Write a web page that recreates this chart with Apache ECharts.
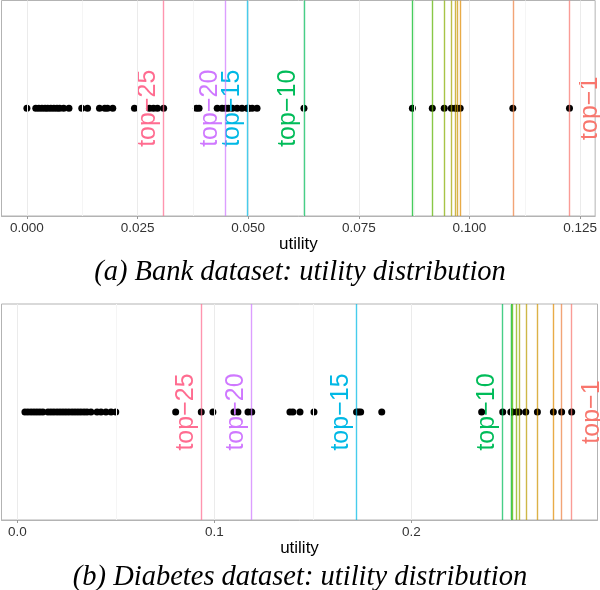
<!DOCTYPE html>
<html>
<head>
<meta charset="utf-8">
<script src="https://cdn.jsdelivr.net/npm/echarts@6/dist/echarts.min.js"></script>
<style>html,body{margin:0;padding:0;background:#fff}#c{width:600px;height:590px}</style>
</head>
<body>
<div id="c"></div>
<script>
// ---- data ----
const topK = [1, 2, 3, 4, 5, 6, 7, 8, 9, 10, 15, 20, 25];
const labeledK = [1, 10, 15, 20, 25];

const bankUtility = [0.0000, 0.0020, 0.0027, 0.0034, 0.0041, 0.0047, 0.0054, 0.0061, 0.0068, 0.0074,
  0.0083, 0.0095, 0.0124, 0.0137, 0.0164, 0.0176, 0.0182, 0.0194, 0.0243, 0.0277, 0.0286, 0.0295,
  0.0309, 0.0383, 0.0389, 0.0430, 0.0441, 0.0449, 0.0455, 0.0464, 0.0475, 0.0486, 0.0498, 0.0499,
  0.0502, 0.0509, 0.0520, 0.0626, 0.0871, 0.0916, 0.0943, 0.0959, 0.0968, 0.0972, 0.0979, 0.1098, 0.1226];
const bankCutoffs = [0.1226, 0.1098, 0.0979, 0.0972, 0.0968, 0.0959, 0.0943, 0.0916, 0.0871, 0.0626, 0.0498, 0.0449, 0.0309];
const bankTicks = [0, 0.025, 0.05, 0.075, 0.1, 0.125];
const bankTickLabels = ['0.000', '0.025', '0.050', '0.075', '0.100', '0.125'];
const bankMinor = [0.0125, 0.0375, 0.0625, 0.0875, 0.1125];

const diabetesUtility = [0.0039, 0.0054, 0.0070, 0.0085, 0.0100, 0.0115, 0.0130, 0.0156, 0.0171, 0.0186,
  0.0202, 0.0217, 0.0232, 0.0247, 0.0262, 0.0278, 0.0293, 0.0308, 0.0323, 0.0339, 0.0354, 0.0374,
  0.0405, 0.0425, 0.0450, 0.0476, 0.0500, 0.0804, 0.0934, 0.0993, 0.1100, 0.1120, 0.1171, 0.1190,
  0.1384, 0.1399, 0.1435, 0.1506, 0.1722, 0.1732, 0.1743, 0.1850, 0.2357, 0.2464, 0.2505, 0.2513,
  0.2535, 0.2547, 0.2581, 0.2640, 0.2721, 0.2763, 0.2814];
const diabetesCutoffs = [0.2814, 0.2763, 0.2721, 0.2640, 0.2581, 0.2547, 0.2535, 0.2513, 0.2505, 0.2464, 0.1722, 0.1190, 0.0934];
const diabetesTicks = [0, 0.1, 0.2];
const diabetesTickLabels = ['0.0', '0.1', '0.2'];
const diabetesMinor = [0.05, 0.15, 0.25];

const titles = ['(a) Bank dataset: utility distribution', '(b) Diabetes dataset: utility distribution'];
const axisName = 'utility';

// ---- colours (ggplot-like hue palette, 25 levels) ----
function hcl(h, c, l) {
  const Xn = 95.047, Yn = 100.0, Zn = 108.883;
  const un = 4 * Xn / (Xn + 15 * Yn + 3 * Zn), vn = 9 * Yn / (Xn + 15 * Yn + 3 * Zn);
  const hr = h * Math.PI / 180;
  const U = c * Math.cos(hr), V = c * Math.sin(hr);
  const Y = Yn * (l > 8 ? Math.pow((l + 16) / 116, 3) : l / 903.3);
  const up = U / (13 * l) + un, vp = V / (13 * l) + vn;
  const X = 9.0 * Y * up / (4 * vp);
  const Z = -X / 3 - 5 * Y + 3 * Y / vp;
  const x = X / 100, y = Y / 100, z = Z / 100;
  const lin = [3.240479 * x - 1.537150 * y - 0.498535 * z,
               -0.969256 * x + 1.875992 * y + 0.041556 * z,
               0.055648 * x - 0.204043 * y + 1.057311 * z];
  const g = lin.map(v => {
    v = v <= 0.0031308 ? 12.92 * v : 1.055 * Math.pow(v, 1 / 2.4) - 0.055;
    v = Math.max(0, Math.min(1, v));
    return Math.round(v * 255);
  });
  return '#' + g.map(v => v.toString(16).padStart(2, '0')).join('');
}
const colorForK = k => hcl(15 + (k - 1) * 360 / 25, 100, 65);

// ---- chart ----
const chart = echarts.init(document.getElementById('c'), null, { renderer: 'canvas' });
const FONT = '"Liberation Sans", Arial, Helvetica, sans-serif';

function panelSeries(idx, utility, cutoffs, majors, minors) {
  const grid = [];
  majors.forEach(v => grid.push({ xAxis: v, lineStyle: { color: '#EBEBEB', width: 1, type: 'solid' } }));
  minors.forEach(v => grid.push({ xAxis: v, lineStyle: { color: '#F5F5F5', width: 1, type: 'solid' } }));
  const cut = topK.map((k, i) => ({ xAxis: cutoffs[i], lineStyle: { color: colorForK(k), width: 1.4, type: 'solid', opacity: 0.72 } }));
  const labels = labeledK.map(k => [cutoffs[topK.indexOf(k)], 0, k]);
  return [
    { type: 'scatter', xAxisIndex: idx, yAxisIndex: idx, data: [], z: 1, silent: true,
      markLine: { silent: true, precision: 8, symbol: ['none', 'none'], label: { show: false }, animation: false, data: grid } },
    { type: 'scatter', xAxisIndex: idx, yAxisIndex: idx, data: [], z: 2, silent: true,
      markLine: { silent: true, precision: 8, symbol: ['none', 'none'], label: { show: false }, animation: false, data: cut } },
    { type: 'scatter', xAxisIndex: idx, yAxisIndex: idx, z: 3, symbolSize: 7,
      itemStyle: { color: '#000', opacity: 1 }, data: utility.map(v => [v, 0]) },
    { type: 'custom', xAxisIndex: idx, yAxisIndex: idx, z: 4, silent: true,
      data: labels,
      renderItem: function (params, api) {
        const k = api.value(2);
        const pt = api.coord([api.value(0), api.value(1)]);
        const dx = k === 1 ? 20.5 : -15.5;
        return {
          type: 'text', x: pt[0] + dx, y: pt[1], rotation: Math.PI / 2,
          style: { text: 'top\u2212' + k, fill: colorForK(k), fontSize: 25, fontFamily: FONT,
                   align: 'center', verticalAlign: 'middle' }
        };
      } }
  ];
}

function xAxisFor(idx, min, max, ticks, tickLabels) {
  return {
    type: 'value', gridIndex: idx, min: min, max: max,
    name: axisName, nameLocation: 'middle', nameGap: 20,
    nameTextStyle: { fontFamily: FONT, fontSize: 17, color: '#000' },
    splitLine: { show: false },
    axisLine: { show: true, onZero: false, lineStyle: { color: '#B3B3B3', width: 1 } },
    axisTick: { show: true, customValues: ticks, length: 3, lineStyle: { color: '#999' } },
    axisLabel: { customValues: ticks, margin: 5, fontFamily: FONT, fontSize: 13.5, color: '#333',
                 formatter: v => { const i = ticks.findIndex(t => Math.abs(t - v) < 1e-9); return i >= 0 ? tickLabels[i] : ''; } }
  };
}
function yAxisFor(idx) {
  return { type: 'value', gridIndex: idx, min: -1, max: 1, show: false, splitLine: { show: false } };
}

const titleStyle = { fontFamily: '"Liberation Serif", "Times New Roman", serif', fontStyle: 'italic',
  fontWeight: 'normal', fontSize: 28.5, color: '#000' };

chart.setOption({
  animation: false,
  backgroundColor: '#fff',
  title: [
    { text: titles[0], left: 'center', top: 258, padding: 0, textStyle: titleStyle },
    { text: titles[1], left: 'center', top: 563, padding: 0, textStyle: titleStyle }
  ],
  grid: [
    { left: 1.5, top: 0.5, width: 596, height: 215.5, show: true, borderColor: '#B3B3B3', borderWidth: 1, containLabel: false },
    { left: 1.5, top: 304, width: 596, height: 216, show: true, borderColor: '#B3B3B3', borderWidth: 1, containLabel: false }
  ],
  xAxis: [
    xAxisFor(0, -0.00574, 0.1284, bankTicks, bankTickLabels),
    xAxisFor(1, -0.0080, 0.2945, diabetesTicks, diabetesTickLabels)
  ],
  yAxis: [yAxisFor(0), yAxisFor(1)],
  series: [
    ...panelSeries(0, bankUtility, bankCutoffs, bankTicks, bankMinor),
    ...panelSeries(1, diabetesUtility, diabetesCutoffs, diabetesTicks, diabetesMinor)
  ]
});
</script>
</body>
</html>
